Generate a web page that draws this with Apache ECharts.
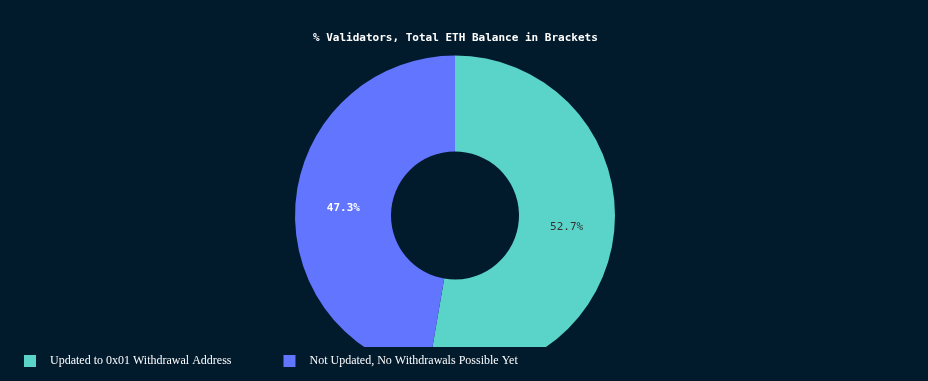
<!DOCTYPE html>
<html><head><meta charset="utf-8">
<script src="https://cdn.jsdelivr.net/npm/echarts@6/dist/echarts.min.js"></script>
<style>html,body{margin:0;padding:0;background:#011a2c;}#c{width:928px;height:381px;}</style>
</head><body><div id="c"></div>
<script>
const categories = ["Updated to 0x01 Withdrawal Address", "Not Updated, No Withdrawals Possible Yet"];
const values = [52.7, 47.3];
const colors = ["#5ad3c9", "#6175ff"];
const titleText = "% Validators, Total ETH Balance in Brackets";

const chart = echarts.init(document.getElementById('c'));
chart.setOption({
  backgroundColor: '#011a2c',
  animation: false,
  title: {
    text: titleText, left: 308, top: 28, z: 10,
    textStyle: { color: '#ffffff', fontFamily: 'DejaVu Sans Mono', fontSize: 11, fontWeight: 'bold' }
  },
  legend: {
    data: categories, left: 19, top: 350, itemWidth: 12, itemHeight: 12, itemGap: 52,
    icon: 'rect', z: 10,
    textStyle: { color: '#ffffff', fontFamily: 'Liberation Serif', fontSize: 12, padding: [0,0,0,9] }
  },
  graphic: [{
    type: 'rect', shape: { x: 0, y: 347, width: 928, height: 40 },
    style: { fill: '#011a2c' }, z: 5, silent: true
  }],
  series: [{
    type: 'pie', radius: [64, 160], center: [455, 215.5], startAngle: 90, clockwise: true,
    z: 1,
    data: categories.map((c, i) => ({
      name: c, value: values[i], itemStyle: { color: colors[i] },
      label: i === 0 ? { color: '#333333', fontWeight: 'normal', offset: [-3, 2] } : { color: '#ffffff', fontWeight: 'bold', offset: [3, 2] }
    })),
    label: {
      show: true, position: 'inside', fontFamily: 'DejaVu Sans Mono', fontSize: 11,
      formatter: p => p.value.toFixed(1) + '%'
    },
    labelLine: { show: false },
    itemStyle: { borderWidth: 0 }
  }]
});
</script></body></html>
